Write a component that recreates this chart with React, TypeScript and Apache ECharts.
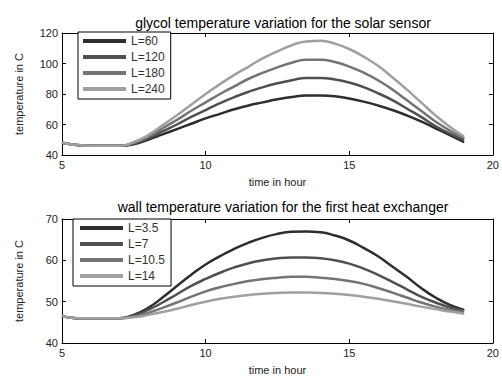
import React, { useEffect, useRef } from "react";
import * as echarts from "echarts";

const hours = [5, 5.5, 6, 6.5, 7, 7.5, 8, 8.5, 9, 9.5, 10, 10.5, 11, 11.5, 12, 12.5, 13, 13.5, 14, 14.5, 15, 15.5, 16, 16.5, 17, 17.5, 18, 18.5, 19];

const topNames = ["L=60", "L=120", "L=180", "L=240"];
const topL60 = [48, 46.5, 46, 46, 46, 47, 50, 53.5, 57, 60.5, 64, 67, 70, 72.5, 74.5, 76.5, 78, 79, 79, 78.5, 77, 75, 72.5, 69.5, 66, 62, 57.5, 53, 48.5];
const topL120 = [48, 46.5, 46, 46, 46, 47.5, 51, 55.5, 60, 65, 69.5, 74, 78, 81.5, 84.5, 87, 89, 90.5, 90.5, 89.5, 87.5, 84.5, 80.5, 76, 70.5, 65, 59, 54, 50];
const topL180 = [48, 46.5, 46, 46, 46, 48, 52, 57.5, 63, 69, 74.5, 80, 85, 90, 94, 97.5, 100.5, 102.5, 102.5, 101, 98, 94, 89, 83, 76, 69, 62, 56, 51];
const topL240 = [48, 46.5, 46, 46, 46, 48.5, 53, 59.5, 66, 73, 80, 86.5, 92.5, 98, 103.5, 108, 112, 114.5, 115, 113, 109.5, 104.5, 98.5, 91, 83, 74.5, 66, 58.5, 52];

const botNames = ["L=3.5", "L=7", "L=10.5", "L=14"];
const botL35 = [46.5, 46, 46, 46, 46, 46.8, 48.5, 51, 53.8, 56.5, 59, 61, 62.8, 64.3, 65.5, 66.4, 66.9, 67, 66.8, 66, 64.8, 63, 61, 58.5, 56, 53.3, 51, 49.2, 48];
const botL7 = [46.5, 46, 46, 46, 46, 46.6, 48, 49.8, 51.8, 53.8, 55.5, 57, 58.3, 59.3, 60, 60.5, 60.7, 60.7, 60.5, 60, 59.2, 58, 56.5, 54.8, 53, 51.2, 49.8, 48.6, 47.8];
const botL105 = [46.5, 46, 46, 46, 46, 46.4, 47.3, 48.5, 49.8, 51.2, 52.5, 53.5, 54.3, 55, 55.5, 55.8, 56, 56, 55.8, 55.5, 55, 54.3, 53.3, 52.2, 51, 49.8, 48.8, 48, 47.5];
const botL14 = [46.5, 46, 46, 46, 46, 46.2, 46.8, 47.5, 48.3, 49.2, 50, 50.7, 51.2, 51.6, 51.9, 52.1, 52.2, 52.2, 52.1, 51.9, 51.6, 51.2, 50.7, 50.1, 49.5, 48.8, 48.2, 47.6, 47.1];

const topTitle = "glycol temperature variation for the solar sensor";
const botTitle = "wall temperature variation for the first heat exchanger";
const xName = "time in hour";
const yName = "temperature in C";

const greys = ["#2e2e2e", "#505050", "#747474", "#a0a0a0"];
const font = "Liberation Sans, Arial, sans-serif";

export default function App() {
  const ref = useRef<HTMLDivElement>(null);
  useEffect(() => {
    document.body.style.margin = "0";
    const chart = echarts.init(ref.current!, undefined, { renderer: "svg" });
    const pair = (ys: number[]) => hours.map((h, i) => [h, ys[i]]);

    const grids = [
      { left: 62, top: 33, right: 7, height: 122 },
      { left: 62, top: 219, right: 6, height: 125 },
    ];

    const tickLabel = { fontSize: 11, color: "#222", fontFamily: font };
    const nameStyle = { fontSize: 11, color: "#222", fontFamily: font };
    const mkX = (gi: number, pos: "bottom" | "top", main: boolean) => ({
      type: "value",
      gridIndex: gi,
      position: pos,
      min: 5,
      max: 20,
      interval: 5,
      name: main ? xName : "",
      nameLocation: "middle",
      nameGap: 21,
      nameTextStyle: nameStyle,
      axisLine: { show: true, onZero: false, lineStyle: { color: "#000", width: 1 } },
      axisTick: { show: true, inside: true, length: 4, lineStyle: { color: "#000" } },
      axisLabel: { show: main, margin: 4, ...tickLabel },
      splitLine: { show: false },
    });
    const mkY = (gi: number, pos: "left" | "right", main: boolean, min: number, max: number, interval: number) => ({
      type: "value",
      gridIndex: gi,
      position: pos,
      min,
      max,
      interval,
      name: main ? yName : "",
      nameLocation: "middle",
      nameGap: 38,
      nameTextStyle: nameStyle,
      axisLine: { show: true, onZero: false, lineStyle: { color: "#000", width: 1 } },
      axisTick: { show: true, inside: true, length: 4, lineStyle: { color: "#000" } },
      axisLabel: { show: main, margin: 4, ...tickLabel },
      splitLine: { show: false },
    });

    const mkSeries = (names: string[], datas: number[][], gi: number) =>
      names.map((n, i) => ({
        name: n,
        type: "line",
        xAxisIndex: gi * 2,
        yAxisIndex: gi * 2,
        data: pair(datas[i]),
        smooth: 0.5,
        showSymbol: false,
        lineStyle: { width: 2.5, color: greys[i] },
        itemStyle: { color: greys[i] },
      }));

    const legendBase = {
      orient: "vertical",
      icon: "rect",
      itemWidth: 43,
      itemHeight: 4,
      itemGap: 2,
      backgroundColor: "#fff",
      borderColor: "#000",
      borderWidth: 1,
      borderRadius: 0,
      textStyle: { fontSize: 12, color: "#333", fontFamily: font, lineHeight: 14 },
    };

    chart.setOption({
      animation: false,
      backgroundColor: "#fff",
      title: [
        { text: topTitle, left: 278, top: 11, textAlign: "center", textStyle: { fontSize: 14, fontWeight: "normal", color: "#000", fontFamily: font } },
        { text: botTitle, left: 278, top: 195, textAlign: "center", textStyle: { fontSize: 14, fontWeight: "normal", color: "#000", fontFamily: font } },
      ],
      grid: grids.map((g) => ({ ...g, show: false })),
      xAxis: [mkX(0, "bottom", true), mkX(0, "top", false), mkX(1, "bottom", true), mkX(1, "top", false)],
      yAxis: [
        mkY(0, "left", true, 40, 120, 20),
        mkY(0, "right", false, 40, 120, 20),
        mkY(1, "left", true, 40, 70, 10),
        mkY(1, "right", false, 40, 70, 10),
      ],
      legend: [
        { ...legendBase, data: topNames, left: 78, top: 32, padding: [2, 6, 3, 5] },
        { ...legendBase, data: botNames, left: 73, top: 219, padding: [2, 6, 3, 7] },
      ],
      series: [
        ...mkSeries(topNames, [topL60, topL120, topL180, topL240], 0),
        ...mkSeries(botNames, [botL35, botL7, botL105, botL14], 1),
      ],
    });
    return () => chart.dispose();
  }, []);
  return <div ref={ref} style={{ width: 502, height: 376 }} />;
}
